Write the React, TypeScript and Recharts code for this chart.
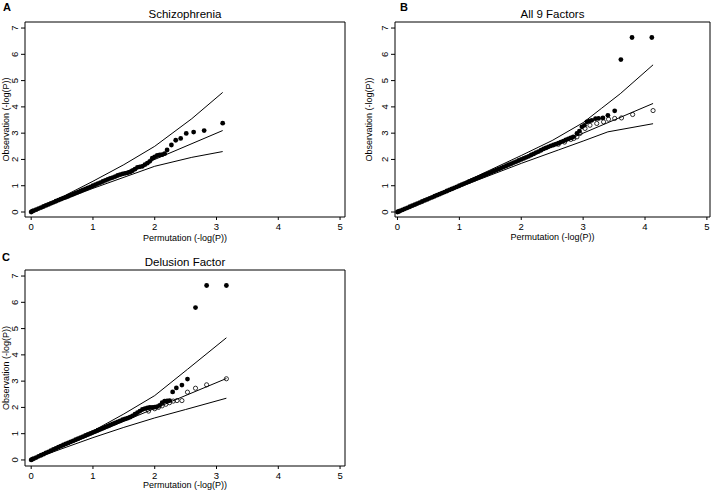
import { ComposedChart, Line, Scatter, XAxis, YAxis, ReferenceArea } from 'recharts'

type Pt = [number, number]

const xTicks = [0, 1, 2, 3, 4, 5]
const yTicks = [0, 1, 2, 3, 4, 5, 6, 7]

// A: Schizophrenia
const schizObs: Pt[] = [
  [0, 0], [0.02, 0.03], [0.04, 0.05], [0.08, 0.09], [0.12, 0.13], [0.16, 0.17], [0.2, 0.21],
  [0.24, 0.25], [0.28, 0.29], [0.32, 0.33], [0.36, 0.37], [0.4, 0.41], [0.44, 0.45], [0.48, 0.49],
  [0.52, 0.53], [0.56, 0.56], [0.6, 0.6], [0.64, 0.64], [0.68, 0.68], [0.72, 0.72], [0.76, 0.76],
  [0.8, 0.8], [0.84, 0.84], [0.88, 0.88], [0.92, 0.92], [0.96, 0.96], [1.0, 1.0], [1.04, 1.04],
  [1.08, 1.08], [1.12, 1.12], [1.16, 1.16], [1.2, 1.2], [1.24, 1.24], [1.28, 1.28], [1.32, 1.31],
  [1.36, 1.35], [1.4, 1.39], [1.44, 1.42], [1.48, 1.45], [1.52, 1.47], [1.56, 1.49], [1.6, 1.52],
  [1.64, 1.57], [1.68, 1.63], [1.72, 1.7], [1.76, 1.72], [1.8, 1.74], [1.84, 1.8], [1.88, 1.86],
  [1.92, 1.93], [1.96, 2.05], [2.0, 2.1], [2.04, 2.15], [2.08, 2.17], [2.12, 2.18], [2.16, 2.22],
  [2.2, 2.36], [2.27, 2.55], [2.34, 2.73], [2.42, 2.8], [2.51, 2.99], [2.63, 3.04], [2.8, 3.1],
  [3.1, 3.38],
]
const schizUpper: Pt[] = [[0, 0], [0.5, 0.57], [1, 1.17], [1.5, 1.8], [2, 2.5], [2.6, 3.55], [3.1, 4.55]]
const schizExpected: Pt[] = [[0, 0], [3.1, 3.1]]
const schizLower: Pt[] = [[0, 0], [1, 0.9], [2, 1.74], [2.6, 2.08], [3.1, 2.3]]

// B: All 9 Factors
const allObs: Pt[] = [
  [0, 0], [0.02, 0.02], [0.04, 0.04], [0.08, 0.08], [0.12, 0.12], [0.16, 0.16], [0.2, 0.2],
  [0.24, 0.24], [0.28, 0.28], [0.32, 0.32], [0.36, 0.36], [0.4, 0.4], [0.44, 0.44], [0.48, 0.48],
  [0.52, 0.52], [0.56, 0.56], [0.6, 0.6], [0.64, 0.64], [0.68, 0.68], [0.72, 0.72], [0.76, 0.76],
  [0.8, 0.8], [0.84, 0.84], [0.88, 0.88], [0.92, 0.92], [0.96, 0.96], [1.0, 1.0], [1.04, 1.04],
  [1.08, 1.08], [1.12, 1.12], [1.16, 1.16], [1.2, 1.2], [1.24, 1.24], [1.28, 1.28], [1.32, 1.32],
  [1.36, 1.36], [1.4, 1.4], [1.44, 1.44], [1.48, 1.48], [1.52, 1.52], [1.56, 1.56], [1.6, 1.6],
  [1.64, 1.64], [1.68, 1.68], [1.72, 1.72], [1.76, 1.76], [1.8, 1.8], [1.84, 1.84], [1.88, 1.88],
  [1.92, 1.92], [1.96, 1.96], [2.0, 2.0], [2.04, 2.04], [2.08, 2.08], [2.12, 2.12], [2.16, 2.17],
  [2.2, 2.21], [2.24, 2.26], [2.28, 2.3], [2.32, 2.35], [2.36, 2.4], [2.4, 2.44], [2.44, 2.48],
  [2.48, 2.52], [2.52, 2.55], [2.56, 2.58], [2.6, 2.62], [2.64, 2.66], [2.68, 2.7], [2.72, 2.74],
  [2.76, 2.78], [2.8, 2.82], [2.84, 2.86], [2.9, 2.99], [2.94, 3.08], [2.98, 3.24], [3.02, 3.3],
  [3.06, 3.43], [3.1, 3.46], [3.14, 3.49], [3.2, 3.55], [3.25, 3.56], [3.32, 3.58], [3.4, 3.68],
  [3.51, 3.85], [3.61, 5.8], [3.79, 6.64], [4.11, 6.64],
]
const allPerm: Pt[] = [
  [2.6, 2.58], [2.7, 2.66], [2.8, 2.76], [2.85, 2.8], [2.9, 2.86], [2.95, 2.99], [3.03, 3.18],
  [3.11, 3.3], [3.22, 3.37], [3.33, 3.43], [3.41, 3.53], [3.51, 3.56], [3.62, 3.58], [3.8, 3.71],
  [4.13, 3.86],
]
const allUpper: Pt[] = [[0, 0], [1, 1.05], [2, 2.15], [2.5, 2.72], [3, 3.4], [3.3, 3.95], [3.6, 4.5], [4.13, 5.6]]
const allExpected: Pt[] = [[0, 0], [4.13, 4.13]]
const allLower: Pt[] = [[0, 0], [1, 0.95], [2, 1.85], [2.6, 2.36], [3, 2.7], [3.4, 3.05], [4.13, 3.36]]

// C: Delusion Factor
const delObs: Pt[] = [
  [0, 0], [0.02, 0.03], [0.04, 0.05], [0.08, 0.09], [0.12, 0.14], [0.16, 0.18], [0.2, 0.22],
  [0.24, 0.27], [0.28, 0.31], [0.32, 0.35], [0.36, 0.4], [0.4, 0.44], [0.44, 0.49], [0.48, 0.53],
  [0.52, 0.57], [0.56, 0.61], [0.6, 0.65], [0.64, 0.69], [0.68, 0.73], [0.72, 0.77], [0.76, 0.81],
  [0.8, 0.85], [0.84, 0.89], [0.88, 0.93], [0.92, 0.97], [0.96, 1.01], [1.0, 1.05], [1.04, 1.09],
  [1.08, 1.13], [1.12, 1.17], [1.16, 1.21], [1.2, 1.25], [1.24, 1.29], [1.28, 1.33], [1.32, 1.37],
  [1.36, 1.41], [1.4, 1.45], [1.44, 1.49], [1.48, 1.53], [1.52, 1.56], [1.56, 1.59], [1.6, 1.63],
  [1.64, 1.68], [1.68, 1.74], [1.72, 1.8], [1.76, 1.86], [1.8, 1.92], [1.84, 1.95], [1.88, 1.98],
  [1.92, 2.0], [1.96, 2.0], [2.0, 2.01], [2.04, 2.03], [2.08, 2.08], [2.12, 2.18], [2.16, 2.24],
  [2.2, 2.25], [2.24, 2.26], [2.29, 2.59], [2.35, 2.74], [2.44, 2.85], [2.53, 3.08], [2.66, 5.8],
  [2.84, 6.64], [3.16, 6.64],
]
const delPerm: Pt[] = [
  [1.9, 1.86], [2.0, 1.95], [2.06, 2.0], [2.12, 2.06], [2.18, 2.12], [2.24, 2.18], [2.3, 2.24],
  [2.36, 2.26], [2.44, 2.26], [2.53, 2.58], [2.66, 2.73], [2.84, 2.86], [3.16, 3.09],
]
const delUpper: Pt[] = [[0, 0], [1, 1.1], [1.5, 1.75], [2, 2.45], [2.53, 3.45], [3.16, 4.65]]
const delExpected: Pt[] = [[0, 0], [3.16, 3.1]]
const delLower: Pt[] = [[0, 0], [0.5, 0.43], [1, 0.85], [1.5, 1.24], [2, 1.6], [2.5, 1.92], [3.16, 2.35]]

const FONT = '"Liberation Sans", Arial, Helvetica, sans-serif'

const toXY = (pts: Pt[]) => pts.map(([x, y]) => ({ x, y }))

const FilledDot = (p: any) => <circle cx={p.cx} cy={p.cy} r={2.4} fill="#000" />
const OpenDot = (p: any) => <circle cx={p.cx} cy={p.cy} r={2.1} fill="none" stroke="#000" strokeWidth={0.8} />

const YTick = ({ x, y, payload }: any) => (
  <text
    x={x}
    y={y}
    transform={`rotate(-90 ${x} ${y})`}
    textAnchor="middle"
    fontSize={9.5}
    fontFamily={FONT}
    fill="#000"
  >
    {payload.value}
  </text>
)

interface PanelProps {
  obs: Pt[]
  perm?: Pt[]
  upper: Pt[]
  expected: Pt[]
  lower: Pt[]
  xDomain: [number, number]
  yDomain: [number, number]
  width: number
  height: number
  top: number
  right: number
  bottom: number
  left: number
}

function QQPanel({ obs, perm, upper, expected, lower, xDomain, yDomain, width, height, top, right, bottom, left }: PanelProps) {
  const lineProps = {
    type: 'linear' as const,
    dataKey: 'y',
    stroke: '#000',
    strokeWidth: 1,
    dot: false,
    activeDot: false,
    isAnimationActive: false,
  }
  return (
    <ComposedChart width={width} height={height} margin={{ top, right, bottom: 0, left: 0 }}>
      <XAxis
        type="number"
        dataKey="x"
        domain={xDomain}
        ticks={xTicks}
        allowDataOverflow
        height={bottom}
        axisLine={false}
        tickLine={{ stroke: '#000' }}
        tickSize={3}
        tickMargin={3}
        tick={{ fontSize: 9.5, fill: '#000', fontFamily: FONT }}
        interval={0}
      />
      <YAxis
        type="number"
        dataKey="y"
        domain={yDomain}
        ticks={yTicks}
        allowDataOverflow
        width={left}
        axisLine={false}
        tickLine={{ stroke: '#000' }}
        tickSize={4}
        tickMargin={3}
        tick={<YTick />}
        interval={0}
      />
      <ReferenceArea
        x1={xDomain[0]}
        x2={xDomain[1]}
        y1={yDomain[0]}
        y2={yDomain[1]}
        fill="none"
        fillOpacity={0}
        stroke="#000"
        strokeWidth={1}
        ifOverflow="visible"
      />
      <Line data={toXY(upper)} {...lineProps} />
      <Line data={toXY(expected)} {...lineProps} />
      <Line data={toXY(lower)} {...lineProps} />
      <Scatter data={toXY(obs)} shape={FilledDot} isAnimationActive={false} />
      {perm && <Scatter data={toXY(perm)} shape={OpenDot} isAnimationActive={false} />}
    </ComposedChart>
  )
}

export default function App() {
  return (
    <div style={{ position: 'absolute', left: 0, top: 0, width: 713, height: 490, background: '#fff' }}>
      <div style={{ position: 'absolute', left: 0, top: 0 }}>
        <QQPanel
          obs={schizObs}
          upper={schizUpper}
          expected={schizExpected}
          lower={schizLower}
          xDomain={[-0.1, 5.08]}
          yDomain={[-0.19, 7.23]}
          width={360}
          height={245}
          top={22}
          right={15}
          bottom={28}
          left={25}
        />
      </div>
      <div style={{ position: 'absolute', left: 360, top: 0 }}>
        <QQPanel
          obs={allObs}
          perm={allPerm}
          upper={allUpper}
          expected={allExpected}
          lower={allLower}
          xDomain={[-0.04, 5.05]}
          yDomain={[-0.19, 7.23]}
          width={353}
          height={245}
          top={22}
          right={3}
          bottom={28}
          left={35}
        />
      </div>
      <div style={{ position: 'absolute', left: 0, top: 240 }}>
        <QQPanel
          obs={delObs}
          perm={delPerm}
          upper={delUpper}
          expected={delExpected}
          lower={delLower}
          xDomain={[-0.1, 5.08]}
          yDomain={[-0.23, 7.23]}
          width={360}
          height={250}
          top={30}
          right={15}
          bottom={24}
          left={25}
        />
      </div>
      <svg
        width={713}
        height={490}
        style={{ position: 'absolute', left: 0, top: 0, pointerEvents: 'none' }}
        fontFamily={FONT}
      >
        <text x={3} y={11} fontSize={11} fontWeight="bold">A</text>
        <text x={185} y={18} fontSize={11.5} textAnchor="middle">Schizophrenia</text>
        <text x={185} y={240.5} fontSize={9} textAnchor="middle">Permutation (-log(P))</text>
        <text x={9} y={119.5} fontSize={9} textAnchor="middle" transform="rotate(-90 9 119.5)">
          Observation (-log(P))
        </text>

        <text x={400} y={11} fontSize={11} fontWeight="bold">B</text>
        <text x={552.5} y={18} fontSize={11.5} textAnchor="middle">All 9 Factors</text>
        <text x={552.5} y={240} fontSize={9} textAnchor="middle">Permutation (-log(P))</text>
        <text x={372} y={119.5} fontSize={9} textAnchor="middle" transform="rotate(-90 372 119.5)">
          Observation (-log(P))
        </text>

        <text x={2} y={261} fontSize={11} fontWeight="bold">C</text>
        <text x={185} y={266} fontSize={11.5} textAnchor="middle">Delusion Factor</text>
        <text x={185} y={488} fontSize={9} textAnchor="middle">Permutation (-log(P))</text>
        <text x={9} y={368} fontSize={9} textAnchor="middle" transform="rotate(-90 9 368)">
          Observation (-log(P))
        </text>
      </svg>
    </div>
  )
}
